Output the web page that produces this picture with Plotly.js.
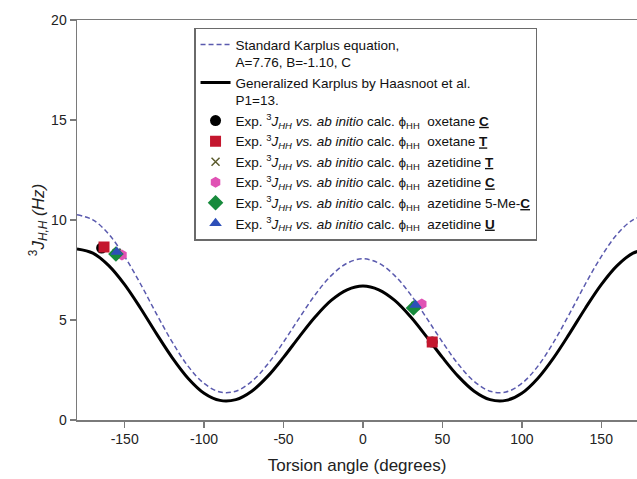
<!DOCTYPE html>
<html>
<head>
<meta charset="utf-8">
<script src="https://cdn.plot.ly/plotly-3.0.1.min.js"></script>
<style>html,body{margin:0;padding:0;background:#fff;overflow:hidden}#chart{width:637px;height:479px}</style>
</head>
<body>
<div id="chart"></div>
<script>
// Torsion angles (degrees) for the two curves
const angles = [-180,-170,-160,-150,-140,-130,-120,-110,-100,-90,-80,-70,-60,-50,-40,-30,-20,-10,0,10,20,30,40,50,60,70,80,90,100,110,120,130,140,150,160,170,180];
// Standard Karplus curve (dashed)
const standardJ = [10.26,10.01,9.29,8.17,6.80,5.31,3.89,2.68,1.83,1.40,1.44,1.93,2.79,3.90,5.11,6.27,7.22,7.84,8.06,7.84,7.22,6.27,5.11,3.90,2.79,1.93,1.44,1.40,1.83,2.68,3.89,5.31,6.80,8.17,9.29,10.01,10.26];
// Generalized Karplus (Haasnoot) curve (solid)
const haasnootJ = [8.55,8.34,7.72,6.77,5.59,4.32,3.11,2.08,1.34,0.98,1.02,1.44,2.18,3.13,4.17,5.16,5.98,6.51,6.70,6.51,5.98,5.16,4.17,3.13,2.18,1.44,1.02,0.98,1.34,2.08,3.11,4.32,5.59,6.77,7.72,8.34,8.55];

// Experimental points: ab initio phi_HH vs exp. 3J_HH
const oxetaneC_phi = [-164.5, 43.6];
const oxetaneC_J   = [8.6, 3.9];
const oxetaneT_phi = [-163.0, 43.6];
const oxetaneT_J   = [8.65, 3.9];
const azetidineT_phi = [-155.0, 33.0];
const azetidineT_J   = [8.35, 5.7];
const azetidineC_phi = [-151.7, 37.0];
const azetidineC_J   = [8.25, 5.8];
const azetidine5MeC_phi = [-155.5, 31.8];
const azetidine5MeC_J   = [8.3, 5.6];
const azetidineU_phi = [-155.0, 33.1];
const azetidineU_J   = [8.4, 5.75];

const xTicks = [-150,-100,-50,0,50,100,150];
const yTicks = [0,5,10,15,20];

const expLabel = (mol) => 'Exp. <sup>3</sup><i>J<sub>HH</sub> vs. ab initio</i> calc. \u03d5<sub>HH</sub>  ' + mol;

const traces = [
  {x: angles, y: standardJ, mode: 'lines', line: {color: '#5a5aae', width: 1.5, dash: '5px,3px', shape: 'spline'},
   name: 'Standard Karplus equation,<br>A=7.76, B=-1.10, C', legendgroup: 'a'},
  {x: angles, y: haasnootJ, mode: 'lines', line: {color: '#000000', width: 3, shape: 'spline'},
   name: 'Generalized Karplus by Haasnoot et al.<br>P1=13.', legendgroup: 'b'},
  {x: oxetaneC_phi, y: oxetaneC_J, mode: 'markers', marker: {symbol: 'circle', size: 11, color: '#000000'},
   name: expLabel('oxetane <b><u>C</u></b>'), legendgroup: 'c'},
  {x: oxetaneT_phi, y: oxetaneT_J, mode: 'markers', marker: {symbol: 'square', size: 11, color: '#c4172e'},
   name: expLabel('oxetane <b><u>T</u></b>'), legendgroup: 'd'},
  {x: azetidineT_phi, y: azetidineT_J, mode: 'markers', marker: {symbol: 'x-thin', size: 8, color: '#5c5c2e', line: {color: '#5c5c2e', width: 1.5}},
   name: expLabel('azetidine <b><u>T</u></b>'), legendgroup: 'e'},
  {x: azetidineC_phi, y: azetidineC_J, mode: 'markers', marker: {symbol: 'hexagon', size: 11, color: '#e052b4'},
   name: expLabel('azetidine <b><u>C</u></b>'), legendgroup: 'f'},
  {x: azetidine5MeC_phi, y: azetidine5MeC_J, mode: 'markers', marker: {symbol: 'diamond', size: 12, color: '#178a3c'},
   name: expLabel('azetidine 5-Me-<b><u>C</u></b>'), legendgroup: 'g'},
  {x: azetidineU_phi, y: azetidineU_J, mode: 'markers', marker: {symbol: 'triangle-up', size: 11, color: '#2d4fb8'},
   name: expLabel('azetidine <b><u>U</u></b>'), legendgroup: 'h'}
];

const layout = {
  width: 637, height: 479,
  margin: {l: 77, r: 0, t: 20, b: 59},
  paper_bgcolor: '#ffffff', plot_bgcolor: '#ffffff',
  font: {family: '"Liberation Sans", Arial, sans-serif', color: '#222'},
  showlegend: true,
  xaxis: {
    range: [-180, 172.5], tickvals: xTicks, ticktext: xTicks.map(String),
    showgrid: false, zeroline: false, showline: true, linecolor: '#7a7a7a', linewidth: 1.5, mirror: true,
    ticks: 'outside', ticklen: 6, tickwidth: 1.5, tickcolor: '#7a7a7a',
    tickfont: {size: 14, color: '#222'},
    title: {text: 'Torsion angle (degrees)', font: {size: 17, color: '#222'}, standoff: 13}
  },
  yaxis: {
    range: [0, 20], tickvals: yTicks, ticktext: yTicks.map(String),
    showgrid: false, zeroline: false, showline: true, linecolor: '#7a7a7a', linewidth: 1.5,
    ticks: 'outside', ticklen: 6, tickwidth: 1.5, tickcolor: '#7a7a7a',
    tickfont: {size: 14, color: '#222'},
    title: {text: '<sup>3</sup><i>J<sub>H,H</sub> (Hz)</i>', font: {size: 17, color: '#222'}, standoff: 2}
  },
  legend: {
    x: 0.209, y: 0.981, xanchor: 'left', yanchor: 'top',
    bgcolor: '#ffffff', bordercolor: '#6a6a6a', borderwidth: 1.5,
    font: {size: 13.5, color: '#111'}, valign: 'top', tracegroupgap: 0.5, traceorder: 'normal'
  }
};

Plotly.newPlot('chart', traces, layout, {displayModeBar: false, staticPlot: true});
</script>
</body>
</html>
